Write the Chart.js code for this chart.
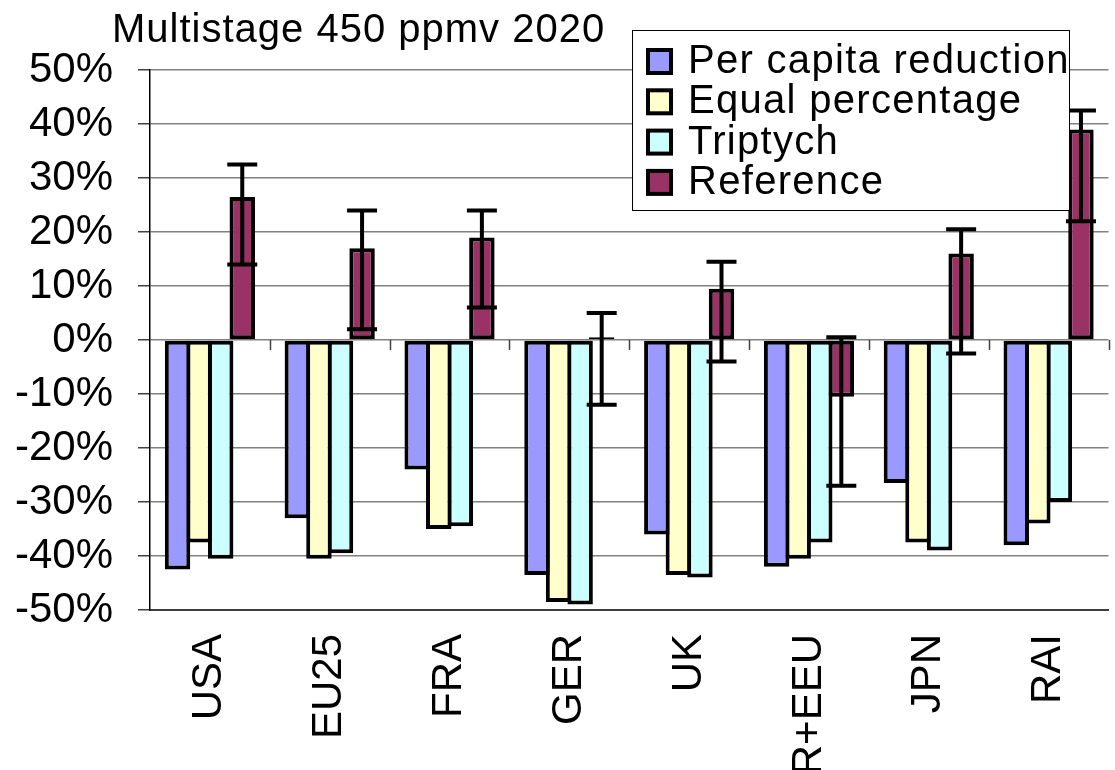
<!DOCTYPE html>
<html>
<head>
<meta charset="utf-8">
<title>Multistage 450 ppmv 2020</title>
<script src="https://cdn.jsdelivr.net/npm/chart.js@4.4.0/dist/chart.umd.min.js"></script>
<style>
    html, body { margin: 0; padding: 0; background: #fff; overflow: hidden; }
    #wrap { width: 1115px; height: 770px; overflow: hidden; }
</style>
</head>
<body>
<div id="wrap"><canvas id="chart" width="1123" height="770"></canvas></div>
<script>
const chartTitle = 'Multistage 450 ppmv 2020';

// Regions on the x axis
const regions = ['USA', 'EU25', 'FRA', 'GER', 'UK', 'R+EEU', 'JPN', 'RAI'];

// Change vs reference year, in percent
const perCapita = [-42.5, -33, -24, -43.5, -36, -42, -26.5, -38];
const equalPct  = [-37.5, -40.5, -35, -48.5, -43.5, -40.5, -37.5, -34];
const triptych  = [-40.5, -39.5, -34.5, -49, -44, -37.5, -39, -30];
const reference = [26.5, 17, 19, 0.5, 9.5, -10.5, 16, 39];

// Range shown as error bars on the reference bars
const refLow  = [14, 2, 6, -12, -4, -27, -2.5, 22];
const refHigh = [32.5, 24, 24, 5, 14.5, 0.5, 20.5, 42.5];

// y axis ticks
const yMin = -50, yMax = 50, yStep = 10;

const fontFamily = '"Liberation Sans", Arial, sans-serif';

// little tick marks on the zero line between the groups
const zeroTicks = {
    id: 'zeroTicks',
    beforeDatasetsDraw(chart) {
        const ctx = chart.ctx;
        const x = chart.scales.x;
        const y0 = chart.scales.y.getPixelForValue(0);
        const step = x.width / regions.length;
        ctx.save();
        ctx.strokeStyle = '#404040';
        ctx.lineWidth = 1.5;
        for (let i = 1; i <= regions.length; i++) {
            const px = Math.round(x.left + i * step) + 0.5;
            ctx.beginPath();
            ctx.moveTo(px, y0);
            ctx.lineTo(px, y0 + 10);
            ctx.stroke();
        }
        ctx.restore();
    }
};

// error bars on the Reference series
const errorBars = {
    id: 'errorBars',
    afterDatasetsDraw(chart) {
        const ctx = chart.ctx;
        const y = chart.scales.y;
        const meta = chart.getDatasetMeta(3);
        ctx.save();
        ctx.strokeStyle = '#000';
        ctx.lineWidth = 4;
        meta.data.forEach((bar, i) => {
            const cx = bar.x;
            const lo = y.getPixelForValue(refLow[i]);
            const hi = y.getPixelForValue(refHigh[i]);
            ctx.beginPath();
            ctx.moveTo(cx, lo);
            ctx.lineTo(cx, hi);
            ctx.moveTo(cx - 15, lo);
            ctx.lineTo(cx + 15, lo);
            ctx.moveTo(cx - 15, hi);
            ctx.lineTo(cx + 15, hi);
            ctx.stroke();
        });
        ctx.restore();
    }
};

// title and boxed legend, drawn by hand to sit where the original has them
const titleAndLegend = {
    id: 'titleAndLegend',
    afterDraw(chart) {
        const ctx = chart.ctx;
        ctx.save();
        ctx.fillStyle = '#000';
        ctx.textBaseline = 'alphabetic';
        ctx.textAlign = 'left';
        ctx.font = '40px ' + fontFamily;
        ctx.letterSpacing = '1px';
        ctx.fillText(chartTitle, 112, 42);

        // legend box
        const bx = 632, by = 30, bw = 437, bh = 180;
        ctx.fillStyle = '#fff';
        ctx.fillRect(bx, by, bw, bh);
        ctx.strokeStyle = '#000';
        ctx.lineWidth = 1;
        ctx.strokeRect(bx + 0.5, by + 0.5, bw, bh);

        ctx.font = '40px ' + fontFamily;
        ctx.letterSpacing = '1.3px';
        ctx.textBaseline = 'middle';
        chart.data.datasets.forEach((ds, i) => {
            const cy = 61 + i * 40.3;
            ctx.fillStyle = ds.backgroundColor;
            ctx.fillRect(648, cy - 11, 23, 23);
            ctx.lineWidth = 4;
            ctx.strokeStyle = '#000';
            ctx.strokeRect(648, cy - 11, 23, 23);
            ctx.fillStyle = '#000';
            ctx.fillText(ds.label, 688, cy + 1);
        });
        ctx.restore();
    }
};

// bars overlap by one border width so neighbours share a single outline
const barStyle = {
    borderColor: '#000',
    borderWidth: 4,
    borderSkipped: false,
    categoryPercentage: 0.72,
    barPercentage: 1.18
};

new Chart(document.getElementById('chart'), {
    type: 'bar',
    data: {
        labels: regions,
        datasets: [
            { label: 'Per capita reduction', data: perCapita, backgroundColor: '#9999FF', ...barStyle },
            { label: 'Equal percentage', data: equalPct, backgroundColor: '#FFFFCC', ...barStyle },
            { label: 'Triptych', data: triptych, backgroundColor: '#CCFFFF', ...barStyle },
            { label: 'Reference', data: reference, backgroundColor: '#993366', ...barStyle }
        ]
    },
    options: {
        responsive: false,
        animation: false,
        devicePixelRatio: 1,
        layout: { padding: { top: 70, left: 0, right: 0, bottom: 0 } },
        plugins: {
            legend: { display: false },
            title: { display: false },
            tooltip: { enabled: false }
        },
        scales: {
            x: {
                grid: { display: false, drawTicks: false },
                border: { display: true, color: '#404040', width: 2 },
                ticks: {
                    color: '#000',
                    font: { family: fontFamily, size: 42 },
                    minRotation: 90,
                    maxRotation: 90,
                    autoSkip: false,
                    padding: 24
                },
                afterFit(scale) { scale.height = 160; }
            },
            y: {
                min: yMin,
                max: yMax,
                grid: {
                    color: '#808080',
                    lineWidth: 1.5,
                    tickLength: 12,
                    tickColor: '#404040'
                },
                border: { display: true, color: '#000', width: 1.5 },
                ticks: {
                    stepSize: yStep,
                    color: '#000',
                    font: { family: fontFamily, size: 42 },
                    padding: 25,
                    callback: v => v + '%'
                },
                afterFit(scale) { scale.width = 150; }
            }
        }
    },
    plugins: [zeroTicks, errorBars, titleAndLegend]
});
</script>
</body>
</html>
